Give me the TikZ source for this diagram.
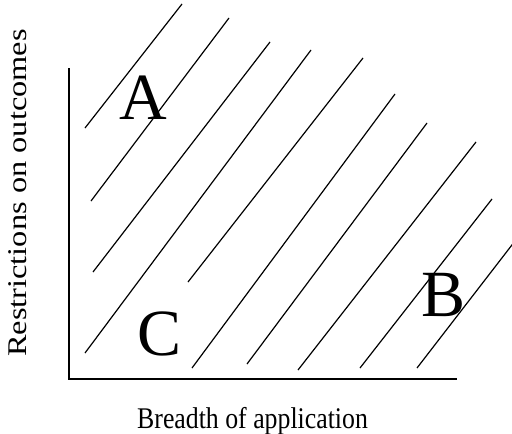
\documentclass[tikz,border=0pt]{standalone}
\usepackage{fontspec}
\setmainfont{Liberation Serif}
\usepackage{graphicx}

\tikzset{
  region/.style={anchor=base,inner sep=0pt,font=\fontsize{66}{66}\selectfont},
  hatch/.style={draw=black,line width=1.2pt},
  axis/.style={draw=black,line width=1.5pt}
}

\begin{document}
\begin{tikzpicture}[x=1pt,y=-1pt]
\useasboundingbox (0,0) rectangle (512,434);
% axes:
\coordinate (top) at (69,68);
\coordinate (origin) at (69,379);
\coordinate (right) at (457,379);
\path[axis] (top) -- (origin) -- (right);
% hatching:
\foreach \xa/\ya/\xb/\yb in {85/128/182/4, 91/201/229/18, 93/272/270/42,
    85/353/311/50, 188/282/363/58, 192/368/395/94, 247/364/427/123,
    298/370/476/142, 360/368/492/199, 417/368/515/241}
  \path[hatch] (\xa,\ya) -- (\xb,\yb);
% regions:
\node[region] (regA) at (143,119) {A};
\node[region] (regB) at (444,316) {B};
\node[region] (regC) at (160,355) {C};
% axis labels:
\node[anchor=base west,inner sep=0pt] (xlabel) at (137,428)
  {\fontsize{30}{30}\selectfont\scalebox{0.86}[1]{Breadth of application}};
\node[rotate=90,anchor=base west,inner sep=0pt] (ylabel) at (27,357)
  {\fontsize{27}{27}\selectfont\scalebox{1.2}[1]{Restrictions on outcomes}};
\end{tikzpicture}
\end{document}
